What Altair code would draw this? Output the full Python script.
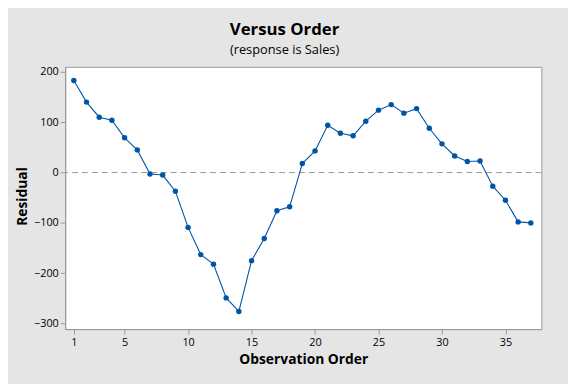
import altair as alt
import pandas as pd

order = list(range(1, 38))
residual = [183, 140, 110, 104, 69, 45, -3, -5, -37, -109, -163, -182, -249, -276,
            -175, -131, -76, -68, 18, 43, 94, 78, 73, 102, 124, 135, 118, 127, 88,
            57, 33, 22, 23, -27, -55, -98, -100]
x_ticks = [1, 5, 10, 15, 20, 25, 30, 35]
y_ticks = [-300, -200, -100, 0, 100, 200]

df = pd.DataFrame({"order": order, "residual": residual})
zero = pd.DataFrame({"y": [0]})

FONT = "Open Sans"
W, H = 483, 266
BLUE = "#0054A6"

x_enc = alt.X("order:Q",
              scale=alt.Scale(domain=[0.32, 37.83], nice=False, zero=False),
              axis=alt.Axis(values=x_ticks, title="Observation Order",
                            titleX=W / 2, titleY=35, titleBaseline="alphabetic",
                            titleFontWeight="bold", titleFontSize=14,
                            labelPadding=3, grid=False))
y_enc = alt.Y("residual:Q",
              scale=alt.Scale(domain=[-311, 210], nice=False, zero=False),
              axis=alt.Axis(values=y_ticks, title="Residual",
                            titleX=-43, titleY=H / 2 - 2, titleAngle=-90,
                            titleAlign="center", titleBaseline="middle",
                            titleFontWeight="bold", titleFontSize=14,
                            labelPadding=2, grid=False))

line = alt.Chart(df).mark_line(color=BLUE, strokeWidth=1.1).encode(x=x_enc, y=y_enc)
pts = alt.Chart(df).mark_circle(color=BLUE, size=30, opacity=1).encode(x="order:Q", y="residual:Q")
ref = alt.Chart(zero).mark_rule(color="#999999", strokeDash=[6, 4], strokeWidth=1).encode(y="y:Q")

chart = (ref + line + pts).properties(
    width=W, height=H,
    title=alt.TitleParams(text="Versus Order", subtitle="(response is Sales)",
                          anchor="middle", frame="group", dx=-19,
                          font=FONT, fontSize=17, fontWeight="bold", color="#000000",
                          subtitleFont=FONT, subtitleFontSize=13, subtitleColor="#000000",
                          subtitlePadding=5, offset=8),
    autosize=alt.AutoSizeParams(type="none"),
    padding={"left": 58, "top": 57, "right": 27, "bottom": 53},
    background="#e5e5e5",
).configure_view(
    fill="white", stroke="#999999", strokeWidth=1
).configure_axis(
    labelFont=FONT, titleFont=FONT, labelFontSize=11, labelColor="#000000",
    titleColor="#000000", domainColor="#999999", tickColor="#999999",
    tickSize=5, domainWidth=1
)

chart.save("out.html", embed_options={"renderer": "svg", "actions": False})
